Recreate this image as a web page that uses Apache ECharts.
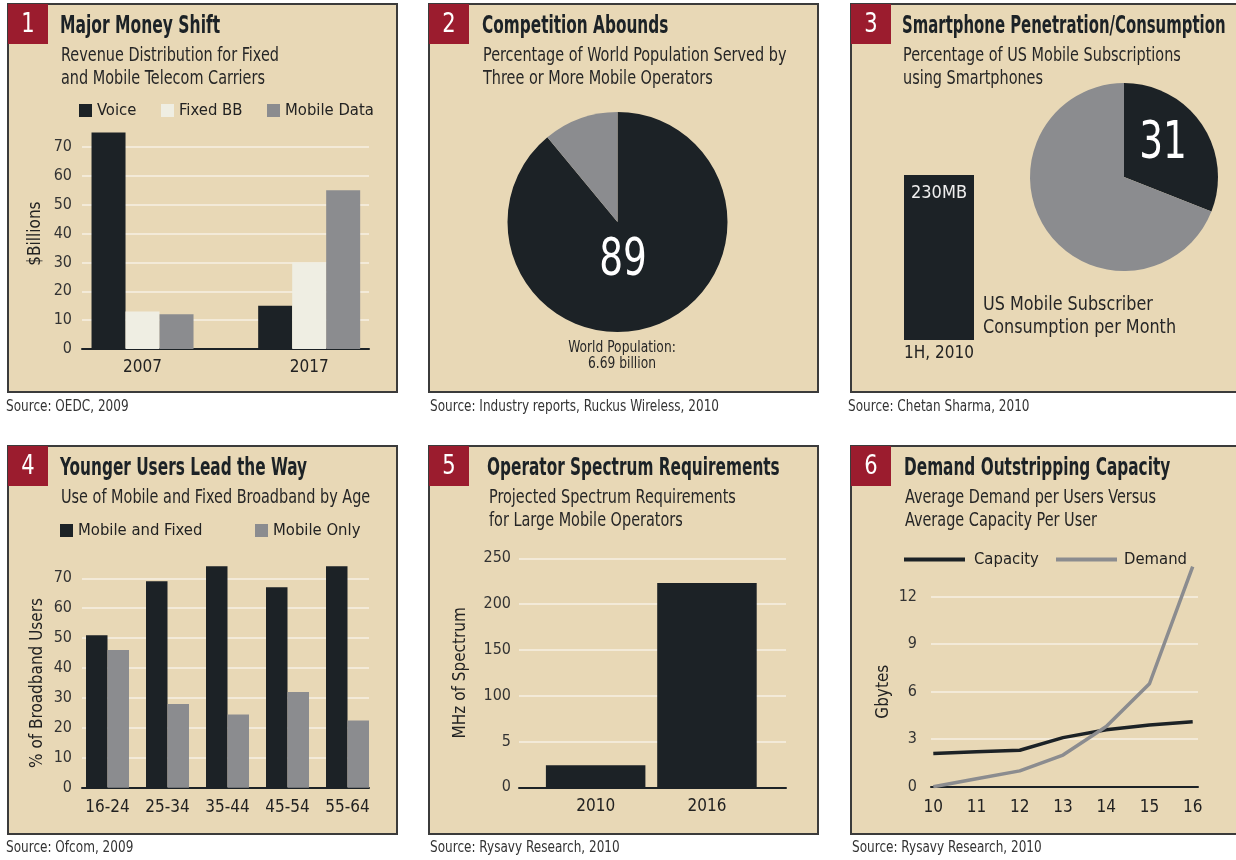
<!DOCTYPE html>
<html lang="en">
<head>
  <meta charset="UTF-8">
  <title>Mobile Broadband</title>
  <style>
    html,
    body {
      padding: 0;
      margin: 0;
      background: #fff;
    }
  </style>
  <script src="https://cdn.jsdelivr.net/npm/echarts@6.0.0/dist/echarts.min.js"></script>
</head>
<body>
  <div id="demo" style="width:1236px;height:860px"></div>
  <script>
    // 1 Major Money Shift
    const moneyYears = ['2007', '2017']
    const voice = [75, 15]
    const fixedBB = [13, 30]
    const mobileData = [12, 55]
    // 2 Competition Abounds
    const worldServed = [89, 11]
    // 3 Smartphone Penetration/Consumption
    const smartphoneShare = [31, 69]
    const consumptionPeriod = ['1H, 2010']
    const consumptionMB = [230]
    // 4 Younger Users Lead the Way
    const ageGroups = ['16-24', '25-34', '35-44', '45-54', '55-64']
    const mobileAndFixed = [51, 69, 74, 67, 74]
    const mobileOnly = [46, 28, 24.5, 32, 22.5]
    // 5 Operator Spectrum Requirements
    const spectrumYears = ['2010', '2016']
    const spectrumMHz = [24, 223]
    const spectrumTicks = ['0', '5', '100', '150', '200', '250']
    // 6 Demand Outstripping Capacity
    const demandYears = ['10', '11', '12', '13', '14', '15', '16']
    const capacity = [2.1, 2.2, 2.3, 3.1, 3.6, 3.9, 4.1]
    const demand = [0, 0.5, 1.0, 2.0, 3.8, 6.5, 13.9]

    const FONT = "'Liberation Sans Narrow', 'DejaVu Sans Condensed', 'Noto Sans', sans-serif"
    const BLACK = '#1c2226'
    const GRAY = '#8b8c8f'
    const LIGHT = '#efeee3'
    const TAN = '#e8d8b6'
    const GRIDLINE = '#f3ead8'
    const RED = '#9b1c2e'
    const INK = '#262626'

    const chart = echarts.init(document.getElementById('demo'))

    // panel frames: [left, top, width, height, number, title, titleX, titleSqueeze, subtitle, subX]
    const panels = [
      [8, 4, 389, 388, '1', 'Major Money Shift', 60, 0.72, 'Revenue Distribution for Fixed\nand Mobile Telecom Carriers', 61],
      [429, 4, 389, 388, '2', 'Competition Abounds', 482, 0.71, 'Percentage of World Population Served by\nThree or More Mobile Operators', 483],
      [851, 4, 400, 388, '3', 'Smartphone Penetration/Consumption', 902, 0.69, 'Percentage of US Mobile Subscriptions\nusing Smartphones', 903],
      [8, 446, 389, 388, '4', 'Younger Users Lead the Way', 60, 0.71, 'Use of Mobile and Fixed Broadband by Age', 61],
      [429, 446, 389, 388, '5', 'Operator Spectrum Requirements', 487, 0.71, 'Projected Spectrum Requirements\nfor Large Mobile Operators', 489],
      [851, 446, 400, 388, '6', 'Demand Outstripping Capacity', 904, 0.71, 'Average Demand per Users Versus\nAverage Capacity Per User', 905]
    ]
    const sources = [
      [6, 407, 'Source: OEDC, 2009'],
      [430, 407, 'Source: Industry reports, Ruckus Wireless, 2010'],
      [848, 407, 'Source: Chetan Sharma, 2010'],
      [6, 848, 'Source: Ofcom, 2009'],
      [430, 848, 'Source: Rysavy Research, 2010'],
      [852, 848, 'Source: Rysavy Research, 2010']
    ]

    // the original type is a condensed gothic, so texts are squeezed horizontally
    const txt = (x, y, text, font, sx, extra) => ({
      type: 'text', x, y, scaleX: sx, z: 100,
      style: Object.assign({ text, fill: INK, font: font + ' ' + FONT, textVerticalAlign: 'middle' }, extra || {})
    })

    const graphic = []
    panels.forEach(p => {
      const [x, y, w, h, num, title, tx, tsx, sub, sx] = p
      graphic.push({ type: 'rect', z: -10, shape: { x, y, width: w, height: h }, style: { fill: TAN, stroke: '#3b3b3b', lineWidth: 2 } })
      graphic.push({ type: 'rect', z: -9, shape: { x: x, y: y, width: 40, height: 40 }, style: { fill: RED } })
      graphic.push(txt(x + 20, y + 21, num, '26px', 0.9, { fill: '#fff', textAlign: 'center' }))
      graphic.push(txt(tx, y + 23, title, 'bold 24px', tsx, { fill: BLACK }))
      graphic.push(txt(sx, y + 41, sub, '19px', 0.845, { lineHeight: 23, textVerticalAlign: 'top' }))
    })
    sources.forEach(s => {
      graphic.push(txt(s[0], s[1], s[2], '15px', 0.895, { fill: '#333' }))
    })
    // pie labels
    graphic.push(txt(623, 261, String(worldServed[0]), '52px', 0.8, { fill: '#fff', textAlign: 'center' }))
    graphic.push(txt(622, 340, 'World Population:\n6.69 billion', '15px', 0.91, { lineHeight: 16, textAlign: 'center', textVerticalAlign: 'top' }))
    graphic.push(txt(1163, 144, String(smartphoneShare[0]), '52px', 0.8, { fill: '#fff', textAlign: 'center' }))
    graphic.push(txt(983, 293, 'US Mobile Subscriber\nConsumption per Month', '20px', 0.89, { lineHeight: 23, textVerticalAlign: 'top' }))

    const grids = []
    const xAxes = []
    const yAxes = []

    // a grid that only draws the value ticks, gridlines and the base line
    function frame (box, max, interval, margin, extra) {
      const gi = grids.length
      grids.push({ left: box[0], top: box[1], width: box[2], height: box[3] })
      xAxes.push({ type: 'category', gridIndex: gi, data: [''], axisLine: { lineStyle: { color: BLACK, width: 2 } }, axisTick: { show: false }, axisLabel: { show: false } })
      yAxes.push(Object.assign({
        type: 'value', gridIndex: gi, min: 0, max, interval,
        axisLine: { show: false }, axisTick: { show: false },
        axisLabel: { color: '#333', fontSize: 16, fontFamily: FONT, margin },
        splitLine: { lineStyle: { color: GRIDLINE, width: 2 } }
      }, extra || {}))
      return gi
    }
    // a grid carrying the marks, with only category labels visible
    function plot (box, cats, max, labelMargin, extra, boundaryGap) {
      const gi = grids.length
      grids.push({ left: box[0], top: box[1], width: box[2], height: box[3] })
      xAxes.push({
        type: 'category', gridIndex: gi, data: cats, boundaryGap: boundaryGap !== false,
        axisLine: { show: false }, axisTick: { show: false },
        axisLabel: { color: '#222', fontSize: 17, fontFamily: FONT, margin: labelMargin, interval: 0 }
      })
      yAxes.push(Object.assign({
        type: 'value', gridIndex: gi, min: 0, max,
        axisLine: { show: false }, axisTick: { show: false }, axisLabel: { show: false }, splitLine: { show: false }
      }, extra || {}))
      return gi
    }
    const yName = (name, gap) => ({
      name, nameLocation: 'middle', nameGap: gap, nameRotate: 90,
      nameTextStyle: { color: '#222', fontSize: 17, fontFamily: FONT }
    })

    frame([82, 147, 287, 202], 70, 10, 10)
    const g1 = plot([59.2, 118.1, 333.3, 230.9], moneyYears, 80, 10, yName('$Billions', 15))
    const g3 = plot([904, 175, 70, 165], consumptionPeriod, 230, 5)
    frame([82, 578.3, 287, 209.4], 70, 10, 10, yName('% of Broadband Users', 36))
    const g4 = plot([77.5, 548.4, 300, 239.3], ageGroups, 80, 11)
    frame([519, 558.3, 267, 229], 250, 50, 8, Object.assign(yName('MHz of Spectrum', 50), {
      axisLabel: { color: '#333', fontSize: 16, fontFamily: FONT, margin: 8, formatter: (v) => spectrumTicks[Math.round(v / 50)] }
    }))
    const g5 = plot([540, 558.3, 222.6, 229], spectrumYears, 250, 11)
    frame([931, 596.7, 267, 190], 12, 3, 14, yName('Gbytes', 39))
    const g6 = plot([933.3, 565, 259.4, 221.7], demandYears, 14, 12, null, false)

    const bar = (name, data, gi, color, width) => ({
      type: 'bar', name, data, xAxisIndex: gi, yAxisIndex: gi, barWidth: width, barGap: 0,
      itemStyle: { color }, emphasis: { disabled: true }
    })
    const legendItem = (name, left, top, icon, w, h, pad) => ({
      data: [name], left, top, icon: icon || 'rect', itemWidth: w || 13, itemHeight: h || 13,
      selectedMode: false, padding: 0,
      textStyle: { fontSize: 16.5, color: '#222', fontFamily: FONT, padding: [0, 0, 0, pad || 0] }
    })

    const option = {
      animation: false,
      backgroundColor: '#fff',
      graphic,
      grid: grids,
      xAxis: xAxes,
      yAxis: yAxes,
      legend: [
        legendItem('Voice', 79, 102),
        legendItem('Fixed BB', 161, 102),
        legendItem('Mobile Data', 267, 102),
        legendItem('Mobile and Fixed', 60, 522),
        legendItem('Mobile Only', 255, 522),
        legendItem('Capacity', 904, 551, 'rect', 61, 4, 4),
        legendItem('Demand', 1056, 551, 'rect', 61, 4, 2)
      ],
      series: [
        bar('Voice', voice, g1, BLACK, 34),
        bar('Fixed BB', fixedBB, g1, LIGHT, 34),
        bar('Mobile Data', mobileData, g1, GRAY, 34),
        Object.assign(bar('Consumption', consumptionMB, g3, BLACK, '100%'), {
          label: { show: true, position: 'insideTop', distance: 9, formatter: '{c}MB', color: '#eee', fontSize: 18, fontFamily: FONT }
        }),
        bar('Mobile and Fixed', mobileAndFixed, g4, BLACK, 21.5),
        bar('Mobile Only', mobileOnly, g4, GRAY, 21.5),
        bar('Spectrum', spectrumMHz, g5, BLACK, 99.5),
        {
          type: 'line', name: 'Capacity', data: capacity, xAxisIndex: g6, yAxisIndex: g6,
          showSymbol: false, lineStyle: { color: BLACK, width: 3.5 }, itemStyle: { color: BLACK }, emphasis: { disabled: true }
        },
        {
          type: 'line', name: 'Demand', data: demand, xAxisIndex: g6, yAxisIndex: g6,
          showSymbol: false, lineStyle: { color: GRAY, width: 3.5 }, itemStyle: { color: GRAY }, emphasis: { disabled: true }
        },
        {
          type: 'pie', name: 'World', center: [617.5, 222], radius: 110, startAngle: 90,
          label: { show: false }, labelLine: { show: false }, emphasis: { disabled: true },
          data: [
            { value: worldServed[0], itemStyle: { color: BLACK } },
            { value: worldServed[1], itemStyle: { color: GRAY } }
          ]
        },
        {
          type: 'pie', name: 'Smartphones', center: [1124, 177], radius: 94, startAngle: 90,
          label: { show: false }, labelLine: { show: false }, emphasis: { disabled: true },
          data: [
            { value: smartphoneShare[0], itemStyle: { color: BLACK } },
            { value: smartphoneShare[1], itemStyle: { color: GRAY } }
          ]
        }
      ]
    }
    chart.setOption(option)
  </script>
</body>
</html>
